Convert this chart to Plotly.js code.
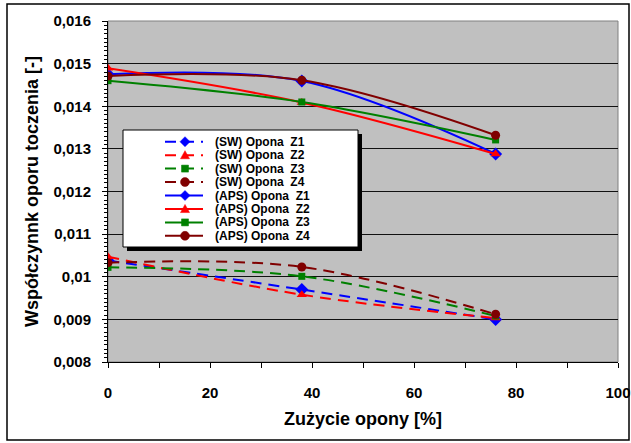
<!DOCTYPE html>
<html><head><meta charset="utf-8">
<script src="https://cdn.plot.ly/plotly-3.0.1.min.js"></script>
<style>html,body{margin:0;padding:0;background:#fff}#c{width:631px;height:443px}</style>
</head><body><div id="c"></div>
<script>
const wear = [0, 38, 76];
const swZ1 = [0.01038, 0.00970, 0.00900];
const swZ2 = [0.01047, 0.00958, 0.00903];
const swZ3 = [0.01022, 0.01001, 0.00908];
const swZ4 = [0.01033, 0.01023, 0.00912];
const apsZ1 = [0.01475, 0.01459, 0.01288];
const apsZ2 = [0.01489, 0.01409, 0.01288];
const apsZ3 = [0.01460, 0.01410, 0.01321];
const apsZ4 = [0.01471, 0.01461, 0.01332];
const names = ['(SW) Opona  Z1','(SW) Opona  Z2','(SW) Opona  Z3','(SW) Opona  Z4',
               '(APS) Opona  Z1','(APS) Opona  Z2','(APS) Opona  Z3','(APS) Opona  Z4'];
const yTickVals = [0.008,0.009,0.010,0.011,0.012,0.013,0.014,0.015,0.016];
const yTickText = ['0,008','0,009','0,01','0,011','0,012','0,013','0,014','0,015','0,016'];
const xTickVals = [0,20,40,60,80,100];
const xTickText = ['0','20','40','60','80','100'];

const colors = ['#0000ff','#ff0000','#008000','#800000'];
const symbols = ['diamond','triangle-up','square','circle'];
const sizes = [10,9,7,9];
const series = [swZ1,swZ2,swZ3,swZ4,apsZ1,apsZ2,apsZ3,apsZ4];
const DASH = '11px,7px';
const traces = series.map((s,i)=>({
  x: wear, y: s, name: names[i], type:'scatter', mode:'lines+markers', showlegend:false,
  line:{color:colors[i%4], width:2, dash: i<4 ? DASH : 'solid', shape:'spline', smoothing:1},
  marker:{color:colors[i%4], symbol:symbols[i%4], size:sizes[i%4]}
}));

const F = 'Arial, "Liberation Sans", sans-serif';
const L = 108, T = 21, W = 510, H = 341, WW = 631, HH = 443;
const px = v => (v - L)/W, py = v => (T + H - v)/H;

// custom legend (Excel style with shadow)
const shapes = [
  {type:'rect', xref:'paper', yref:'paper', x0:0, x1:1, y0:0, y1:1, line:{color:'#808080', width:1}, layer:'below'},
  {type:'rect', xref:'paper', yref:'paper', x0:px(7), x1:px(629), y0:py(440), y1:py(4), line:{color:'#000', width:1.5}},
  {type:'rect', xref:'paper', yref:'paper', x0:px(127), x1:px(362), y0:py(251), y1:py(134), fillcolor:'#000', line:{width:0}, layer:'above'},
  {type:'rect', xref:'paper', yref:'paper', x0:px(123), x1:px(358), y0:py(247), y1:py(130), fillcolor:'#fff', line:{color:'#000', width:1}, layer:'above'}
];
const annotations = [];
const LX0 = 165, LX1 = 203, MX = 185, TX = 214, Y0 = 141.7, DY = 13.45;
names.forEach((n,i)=>{
  const yc = Y0 + i*DY, c = colors[i%4], k = i%4;
  shapes.push({type:'line', xref:'paper', yref:'paper', x0:px(LX0), x1:px(LX1), y0:py(yc), y1:py(yc),
    line:{color:c, width:2, dash: i<4 ? DASH : 'solid'}, layer:'above'});
  let p;
  if (k===0) { const r=5; p=`M${px(MX-r)},${py(yc)} L${px(MX)},${py(yc-r)} L${px(MX+r)},${py(yc)} L${px(MX)},${py(yc+r)} Z`;
    shapes.push({type:'path', xref:'paper', yref:'paper', path:p, fillcolor:c, line:{color:c,width:0.5}, layer:'above'}); }
  else if (k===1) { const r=4.5; p=`M${px(MX-r)},${py(yc+r*0.8)} L${px(MX)},${py(yc-r)} L${px(MX+r)},${py(yc+r*0.8)} Z`;
    shapes.push({type:'path', xref:'paper', yref:'paper', path:p, fillcolor:c, line:{color:c,width:0.5}, layer:'above'}); }
  else if (k===2) { const r=3.5;
    shapes.push({type:'rect', xref:'paper', yref:'paper', x0:px(MX-r), x1:px(MX+r), y0:py(yc+r), y1:py(yc-r), fillcolor:c, line:{color:c,width:0.5}, layer:'above'}); }
  else { const r=4.5;
    shapes.push({type:'circle', xref:'paper', yref:'paper', x0:px(MX-r), x1:px(MX+r), y0:py(yc+r), y1:py(yc-r), fillcolor:c, line:{color:c,width:0.5}, layer:'above'}); }
  annotations.push({xref:'paper', yref:'paper', x:px(TX), y:py(yc), xanchor:'left', yanchor:'middle',
    text:n, showarrow:false, borderpad:0, font:{family:F, size:12, weight:'bold', color:'#000'}});
});

const layout = {
  width:WW, height:HH,
  margin:{l:L, r:WW-L-W, t:T, b:HH-T-H},
  paper_bgcolor:'#ffffff', plot_bgcolor:'#c0c0c0',
  font:{family:F, size:15, color:'#000'},
  showlegend:false,
  xaxis:{range:[0,100], tickvals:xTickVals, ticktext:xTickText, ticks:'outside', ticklen:5,
    tickcolor:'#000', showline:true, linecolor:'#000', linewidth:1, showgrid:false, zeroline:false,
    minor:{dtick:10, tick0:0, ticks:'outside', ticklen:5, tickcolor:'#000', showgrid:false},
    ticklabelstandoff:12,
    tickfont:{family:F, size:15, weight:'bold'}, fixedrange:true,
    title:{text:'Zużycie opony [%]', font:{family:F, size:18, weight:'bold'}, standoff:12}},
  yaxis:{range:[0.008,0.016], tickvals:yTickVals, ticktext:yTickText, ticks:'outside', ticklen:5,
    tickcolor:'#000', showline:true, linecolor:'#000', linewidth:1, showgrid:true, gridcolor:'#111', gridwidth:1,
    zeroline:false, ticklabelstandoff:8,
    minor:{dtick:0.0001, tick0:0.008, ticks:'outside', ticklen:3, tickcolor:'#000', showgrid:false},
    tickfont:{family:F, size:15, weight:'bold'}, fixedrange:true,
    title:{text:'Współczynnk oporu toczenia [-]', font:{family:F, size:18, weight:'bold'}, standoff:10}},
  shapes: shapes,
  annotations: annotations
};
Plotly.newPlot('c', traces, layout, {displayModeBar:false, staticPlot:true});
</script></body></html>
